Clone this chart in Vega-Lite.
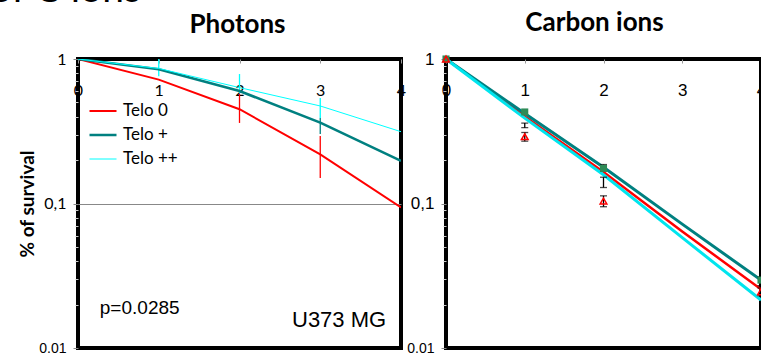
{
  "$schema": "https://vega.github.io/schema/vega-lite/v6.json",
  "autosize": {"type": "none"},
  "padding": {"left": 78, "top": 59, "right": 683, "bottom": 294},
  "background": "white",
  "title": {"text": "of C ions", "anchor": "start", "frame": "group", "font": "Lato", "fontSize": 39, "fontWeight": "normal", "color": "black", "baseline": "alphabetic", "offset": 0, "dx": -88, "dy": 33},
  "config": {"view": {"stroke": "black", "strokeWidth": 4}, "axis": {"domain": false, "labelColor": "black", "titleColor": "black"}},
  "spacing": 45,
  "bounds": "flush",
  "resolve": {"scale": {"x": "independent", "y": "independent", "color": "independent", "strokeWidth": "independent"}},
  "datasets": {
    "photons": [
      {"series": "Telo 0", "dose": 0, "surv": 1.0},
      {"series": "Telo 0", "dose": 1, "surv": 0.72},
      {"series": "Telo 0", "dose": 2, "surv": 0.449},
      {"series": "Telo 0", "dose": 3, "surv": 0.219},
      {"series": "Telo 0", "dose": 4, "surv": 0.094},
      {"series": "Telo +", "dose": 0, "surv": 1.0},
      {"series": "Telo +", "dose": 1, "surv": 0.849},
      {"series": "Telo +", "dose": 2, "surv": 0.60},
      {"series": "Telo +", "dose": 3, "surv": 0.363},
      {"series": "Telo +", "dose": 4, "surv": 0.197},
      {"series": "Telo ++", "dose": 0, "surv": 1.0},
      {"series": "Telo ++", "dose": 1, "surv": 0.86},
      {"series": "Telo ++", "dose": 2, "surv": 0.634},
      {"series": "Telo ++", "dose": 3, "surv": 0.473},
      {"series": "Telo ++", "dose": 4, "surv": 0.314}
    ],
    "photonErr": [
      {"series": "Telo ++", "dose": 1, "lo": 0.76, "hi": 1.0},
      {"series": "Telo ++", "dose": 2, "lo": 0.582, "hi": 0.787},
      {"series": "Telo 0", "dose": 2, "lo": 0.361, "hi": 0.573},
      {"series": "Telo ++", "dose": 3, "lo": 0.39, "hi": 0.537},
      {"series": "Telo +", "dose": 3, "lo": 0.303, "hi": 0.39},
      {"series": "Telo 0", "dose": 3, "lo": 0.150, "hi": 0.293}
    ],
    "carbon": [
      {"series": "Telo 0", "dose": 0, "surv": 1.0},
      {"series": "Telo 0", "dose": 1, "surv": 0.40},
      {"series": "Telo 0", "dose": 2, "surv": 0.165},
      {"series": "Telo 0", "dose": 3, "surv": 0.064},
      {"series": "Telo 0", "dose": 4, "surv": 0.0255},
      {"series": "Telo +", "dose": 0, "surv": 1.0},
      {"series": "Telo +", "dose": 1, "surv": 0.42},
      {"series": "Telo +", "dose": 2, "surv": 0.178},
      {"series": "Telo +", "dose": 3, "surv": 0.072},
      {"series": "Telo +", "dose": 4, "surv": 0.0295},
      {"series": "Telo ++", "dose": 0, "surv": 1.0},
      {"series": "Telo ++", "dose": 1, "surv": 0.39},
      {"series": "Telo ++", "dose": 2, "surv": 0.158},
      {"series": "Telo ++", "dose": 3, "surv": 0.058},
      {"series": "Telo ++", "dose": 4, "surv": 0.0215}
    ],
    "carbonSquares": [
      {"dose": 0, "surv": 1.0},
      {"dose": 1, "surv": 0.43},
      {"dose": 2, "surv": 0.175},
      {"dose": 4, "surv": 0.0295}
    ],
    "carbonTriangles": [
      {"dose": 0, "surv": 1.0},
      {"dose": 1, "surv": 0.29},
      {"dose": 2, "surv": 0.104},
      {"dose": 4, "surv": 0.0245}
    ],
    "carbonErr": [
      {"dose": 1, "lo": 0.27, "hi": 0.31},
      {"dose": 1, "lo": 0.335, "hi": 0.36},
      {"dose": 2, "lo": 0.168, "hi": 0.186},
      {"dose": 2, "lo": 0.129, "hi": 0.152},
      {"dose": 2, "lo": 0.095, "hi": 0.113},
      {"dose": 4, "lo": 0.027, "hi": 0.031},
      {"dose": 4, "lo": 0.023, "hi": 0.026}
    ]
  },
  "hconcat": [
    {
      "width": 323,
      "height": 289,
      "title": {"text": "Photons", "frame": "group", "anchor": "middle", "font": "Lato", "fontSize": 26, "fontWeight": "bold", "color": "black", "baseline": "alphabetic", "offset": -8, "dx": -2},
      "layer": [
        {
          "data": {"name": "photonErr"},
          "mark": {"type": "rule", "strokeWidth": 1.3},
          "encoding": {
            "x": {"field": "dose", "type": "quantitative"},
            "y": {"field": "lo", "type": "quantitative"},
            "y2": {"field": "hi"},
            "color": {"field": "series", "type": "nominal"}
          }
        },
        {
          "data": {"name": "photons"},
          "mark": {"type": "line", "clip": true},
          "encoding": {
            "x": {
              "field": "dose", "type": "quantitative",
              "scale": {"domain": [0, 4], "nice": false, "zero": false},
              "axis": {"orient": "bottom", "offset": -289, "values": [0, 1, 2, 3, 4], "format": "d", "title": null, "tickSize": 4, "tickColor": "#999", "labelPadding": 19, "labelFont": "Lato", "labelFontSize": 16, "labelFlush": false, "labelBound": false, "grid": false}
            },
            "y": {
              "field": "surv", "type": "quantitative",
              "scale": {"type": "log", "domain": [0.01, 1], "nice": false},
              "axis": {
                "title": "% of survival",
                "titleFont": "Lato", "titleFontSize": 19, "titleFontWeight": "bold", "titlePadding": 1,
                "values": [0.01, 0.02, 0.03, 0.04, 0.05, 0.06, 0.07, 0.08, 0.09, 0.1, 0.2, 0.3, 0.4, 0.5, 0.6, 0.7, 0.8, 0.9, 1],
                "labelExpr": "datum.value == 1 ? '1' : (datum.value == 0.1 ? '0,1' : (datum.value == 0.01 ? '0.01' : ''))",
                "labelFont": {"condition": {"test": "datum.value == 0.01", "value": "Liberation Sans"}, "value": "Lato"},
                "labelFontSize": {"condition": {"test": "datum.value == 0.01", "value": 14}, "value": 16},
                "labelPadding": 7,
                "labelOverlap": false, "labelFlush": false, "labelBound": false,
                "tickSize": {"condition": {"test": "datum.value == 1 || datum.value == 0.1 || datum.value == 0.01", "value": 5}, "value": 3},
                "tickColor": {"condition": {"test": "datum.value == 1 || datum.value == 0.1 || datum.value == 0.01", "value": "#888"}, "value": "#ccc"},
                "grid": true, "gridColor": "#888", "gridWidth": 1,
                "gridOpacity": {"condition": {"test": "datum.value == 0.1", "value": 1}, "value": 0}
              }
            },
            "color": {
              "field": "series", "type": "nominal",
              "scale": {"domain": ["Telo 0", "Telo +", "Telo ++"], "range": ["#ff0000", "#008080", "#00ffff"]},
              "legend": {"orient": "none", "legendX": 10, "legendY": 40, "title": null, "symbolType": "stroke", "symbolSize": 729, "symbolStrokeWidth": 3, "labelFont": "Lato", "labelFontSize": 17, "labelColor": "black", "labelOffset": 5, "clipHeight": 24, "rowPadding": 0, "padding": 0, "labelLimit": 200}
            },
            "strokeWidth": {
              "field": "series", "type": "nominal",
              "scale": {"type": "ordinal", "domain": ["Telo 0", "Telo +", "Telo ++"], "range": [2, 2.6, 1]},
              "legend": null
            }
          }
        },
        {
          "data": {"values": [{"dose": 0.27, "surv": 0.0189, "label": "p=0.0285"}]},
          "mark": {"type": "text", "align": "left", "baseline": "middle", "font": "Liberation Sans", "fontSize": 19, "color": "black"},
          "encoding": {
            "x": {"field": "dose", "type": "quantitative"},
            "y": {"field": "surv", "type": "quantitative"},
            "text": {"field": "label"}
          }
        },
        {
          "data": {"values": [{"dose": 2.65, "surv": 0.0156, "label": "U373 MG"}]},
          "mark": {"type": "text", "align": "left", "baseline": "middle", "font": "Liberation Sans", "fontSize": 22, "color": "black"},
          "encoding": {
            "x": {"field": "dose", "type": "quantitative"},
            "y": {"field": "surv", "type": "quantitative"},
            "text": {"field": "label"}
          }
        }
      ]
    },
    {
      "width": 315,
      "height": 289,
      "title": {"text": "Carbon ions", "frame": "group", "anchor": "middle", "font": "Lato", "fontSize": 26, "fontWeight": "bold", "color": "black", "baseline": "alphabetic", "offset": -7, "dx": -9},
      "layer": [
        {
          "data": {"name": "carbon"},
          "mark": {"type": "line", "clip": true},
          "encoding": {
            "x": {
              "field": "dose", "type": "quantitative",
              "scale": {"domain": [0, 4], "nice": false, "zero": false},
              "axis": {"orient": "bottom", "offset": -289, "values": [0, 1, 2, 3, 4], "format": "d", "title": null, "tickSize": 4, "tickColor": "#999", "labelPadding": 19, "labelFont": "Liberation Sans", "labelFontSize": 17, "labelFlush": false, "labelBound": false, "grid": false}
            },
            "y": {
              "field": "surv", "type": "quantitative",
              "scale": {"type": "log", "domain": [0.01, 1], "nice": false},
              "axis": {
                "title": null,
                "values": [0.01, 0.02, 0.03, 0.04, 0.05, 0.06, 0.07, 0.08, 0.09, 0.1, 0.2, 0.3, 0.4, 0.5, 0.6, 0.7, 0.8, 0.9, 1],
                "labelExpr": "datum.value == 1 ? '1' : (datum.value == 0.1 ? '0,1' : (datum.value == 0.01 ? '0.01' : ''))",
                "labelFont": "Liberation Sans",
                "labelFontSize": {"condition": {"test": "datum.value == 0.01", "value": 14}, "value": 17},
                "labelPadding": 7,
                "labelOverlap": false, "labelFlush": false, "labelBound": false,
                "tickSize": {"condition": {"test": "datum.value == 1 || datum.value == 0.1 || datum.value == 0.01", "value": 5}, "value": 3},
                "tickColor": {"condition": {"test": "datum.value == 1 || datum.value == 0.1 || datum.value == 0.01", "value": "#888"}, "value": "#ccc"},
                "grid": false
              }
            },
            "color": {
              "field": "series", "type": "nominal",
              "scale": {"domain": ["Telo 0", "Telo +", "Telo ++"], "range": ["#ff0000", "#008080", "#00e5ee"]},
              "legend": null
            },
            "strokeWidth": {
              "field": "series", "type": "nominal",
              "scale": {"type": "ordinal", "domain": ["Telo 0", "Telo +", "Telo ++"], "range": [2.5, 3, 3]},
              "legend": null
            }
          }
        },
        {
          "data": {"name": "carbonErr"},
          "mark": {"type": "errorbar", "ticks": {"size": 7}, "color": "black", "thickness": 1.3},
          "encoding": {
            "x": {"field": "dose", "type": "quantitative"},
            "y": {"field": "lo", "type": "quantitative"},
            "y2": {"field": "hi"}
          }
        },
        {
          "data": {"name": "carbonSquares"},
          "mark": {"type": "point", "shape": "square", "filled": true, "size": 50, "color": "#2e8b57", "opacity": 1},
          "encoding": {
            "x": {"field": "dose", "type": "quantitative"},
            "y": {"field": "surv", "type": "quantitative"}
          }
        },
        {
          "data": {"name": "carbonTriangles"},
          "mark": {"type": "point", "shape": "triangle-up", "filled": false, "size": 45, "color": "#ff0000", "strokeWidth": 1.5, "opacity": 1},
          "encoding": {
            "x": {"field": "dose", "type": "quantitative"},
            "y": {"field": "surv", "type": "quantitative"}
          }
        }
      ]
    }
  ]
}
